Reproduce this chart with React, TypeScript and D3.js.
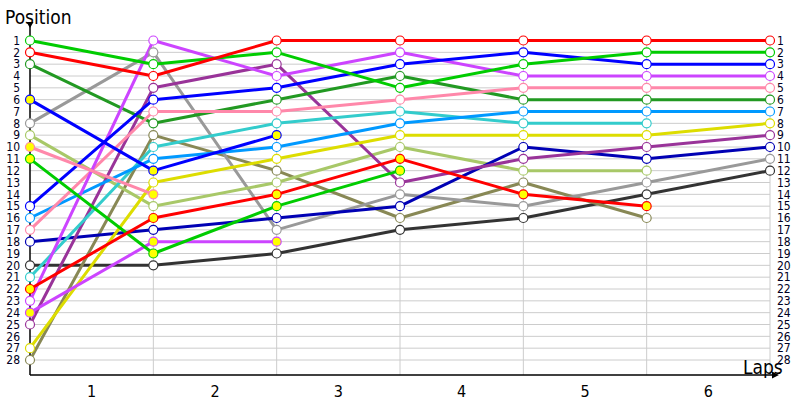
import React from 'react';
import * as d3 from 'd3';

// lap numbers and the position ticks
const laps = [0, 1, 2, 3, 4, 5, 6];
const positions = d3.range(1, 29);
const lapLabels = ['1', '2', '3', '4', '5', '6'];

// each driver's position per lap (stops when retired)
const redA = [2, 4, 1, 1, 1, 1, 1];
const greenA = [1, 3, 2, 5, 3, 2, 2];
const blueA = [15, 6, 5, 3, 2, 3, 3];
const magentaA = [23, 1, 4, 2, 4, 4, 4];
const pinkA = [17, 7, 7, 6, 5, 5, 5];
const darkGreen = [3, 8, 6, 4, 6, 6, 6];
const lightBlue = [16, 11, 10, 8, 7, 7, 7];
const yellow = [27, 13, 11, 9, 9, 9, 8];
const purple = [25, 5, 3, 13, 11, 10, 9];
const darkBlue = [18, 17, 16, 15, 10, 11, 10];
const gray = [8, 2, 17, 14, 15, 13, 11];
const black = [20, 20, 19, 17, 16, 14, 12];
const cyan = [21, 10, 8, 7, 8, 8];
const lightGreen = [9, 15, 13, 10, 12, 12];
const olive = [28, 9, 12, 16, 13, 16];
const redB = [22, 16, 14, 11, 14, 15];
const greenB = [11, 19, 15, 12];
const blueB = [6, 12, 9];
const magentaB = [24, 18, 18];
const pinkB = [10, 14];

const series = [
  { vals: black, color: '#333333', pit: false },
  { vals: olive, color: '#888855', pit: false },
  { vals: gray, color: '#999999', pit: false },
  { vals: lightGreen, color: '#a8c868', pit: false },
  { vals: darkBlue, color: '#0000b4', pit: false },
  { vals: purple, color: '#993399', pit: false },
  { vals: yellow, color: '#dddd00', pit: false },
  { vals: cyan, color: '#33cccc', pit: false },
  { vals: lightBlue, color: '#0099ff', pit: false },
  { vals: darkGreen, color: '#229922', pit: false },
  { vals: pinkA, color: '#ff88aa', pit: false },
  { vals: magentaA, color: '#cc44ff', pit: false },
  { vals: blueA, color: '#0000ff', pit: false },
  { vals: greenA, color: '#00cc00', pit: false },
  { vals: redA, color: '#ff0000', pit: false },
  { vals: pinkB, color: '#ff88aa', pit: true },
  { vals: magentaB, color: '#cc44ff', pit: true },
  { vals: blueB, color: '#0000ff', pit: true },
  { vals: greenB, color: '#00cc00', pit: true },
  { vals: redB, color: '#ff0000', pit: true },
];

const W = 800;
const H = 400;
const font = '"DejaVu Sans Condensed", "DejaVu Sans", sans-serif';

export default function App() {
  const x = d3.scaleLinear().domain([0, 6]).range([30, 770]);
  const y = d3.scaleLinear().domain([1, 28]).range([40.5, 360]);
  const axisY = 375;

  const line = d3.line<number>()
    .x((_, i) => x(laps[i]))
    .y(d => y(d));

  return (
    <svg width={W} height={H} style={{ position: 'absolute', left: 0, top: 0 }}>
      <rect width={W} height={H} fill="#fff" />
      {/* grid */}
      {positions.map(p => (
        <line key={'h' + p} x1={x(0)} x2={x(6)} y1={y(p)} y2={y(p)} stroke="#cccccc" strokeWidth={1} />
      ))}
      {laps.slice(1).map(l => (
        <line key={'v' + l} x1={x(l)} x2={x(l)} y1={y(1)} y2={axisY} stroke="#cccccc" strokeWidth={1} />
      ))}

      {/* axes */}
      <line x1={x(0)} x2={x(0)} y1={axisY} y2={24} stroke="#000" strokeWidth={1.5} />
      <path d={`M${x(0) - 3.5},${22} L${x(0) + 3.5},${22} L${x(0)},${28} Z`} fill="#000" />
      <line x1={x(0)} x2={x(6) + 4} y1={axisY} y2={axisY} stroke="#000" strokeWidth={1.5} />
      <path d={`M${x(6) + 2},${axisY - 3.5} L${x(6) + 2},${axisY + 3.5} L${x(6) + 9},${axisY} Z`} fill="#000" />

      <text x={5} y={24} fontFamily={font} fontSize={19} fill="#000">Position</text>
      <text x={743} y={374} fontFamily={font} fontSize={19} fill="#000">Laps</text>

      {positions.map(p => (
        <text key={'l' + p} x={20} y={y(p)} dy="0.36em" textAnchor="end" fontFamily={font} fontSize={12} fill="#000022">{p}</text>
      ))}
      {positions.map(p => (
        <text key={'r' + p} x={777} y={y(p)} dy="0.36em" textAnchor="start" fontFamily={font} fontSize={12} fill="#000022">{p}</text>
      ))}
      {lapLabels.map((t, i) => (
        <text key={'x' + t} x={(x(i) + x(i + 1)) / 2} y={397} textAnchor="middle" fontFamily={font} fontSize={16} fill="#000">{t}</text>
      ))}

      {/* lines */}
      {series.map((s, i) => (
        <path key={'s' + i} d={line(s.vals) || ''} fill="none" stroke={s.color} strokeWidth={3} strokeLinejoin="round" />
      ))}
      {/* markers */}
      {series.map((s, i) => (
        <g key={'m' + i}>
          {s.vals.map((v, j) => (
            <circle key={j} cx={x(laps[j])} cy={y(v)} r={4.5} fill={s.pit ? '#ffff00' : '#ffffff'} stroke={s.color} strokeWidth={1.2} />
          ))}
        </g>
      ))}
    </svg>
  );
}
